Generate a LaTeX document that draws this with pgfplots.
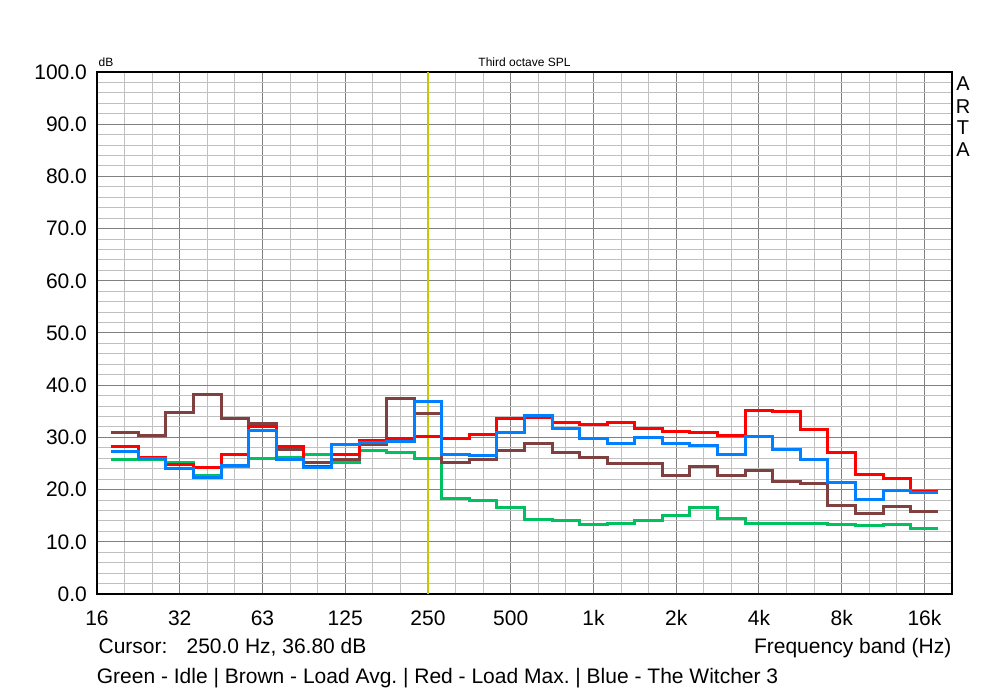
\documentclass[border=0pt]{standalone}
\usepackage{pgfplots}
\pgfplotsset{compat=1.18}
\usepackage{fontspec}
\setmainfont{Liberation Sans}
\frenchspacing
\definecolor{cgreen}{RGB}{0,192,96}
\definecolor{cbrown}{RGB}{128,64,64}
\definecolor{cred}{RGB}{255,0,0}
\definecolor{cblue}{RGB}{0,128,255}
\definecolor{gminor}{RGB}{192,192,192}
\definecolor{gmajor}{RGB}{128,128,128}
\definecolor{ccursor}{RGB}{200,200,0}
\begin{document}
\begin{tikzpicture}
\path[use as bounding box] (-48.5pt,-50pt) rectangle (451.5pt,297pt);
\begin{axis}[
  at={(0,0)}, anchor=south west,
  scale only axis, width=427.5pt, height=261pt,
  xmin=0, xmax=31, ymin=0, ymax=100,
  xtick={0,3,6,9,12,15,18,21,24,27,30},
  xticklabels={16,32,63,125,250,500,1k,2k,4k,8k,16k},
  minor xtick={1,2,4,5,7,8,10,11,13,14,16,17,19,20,22,23,25,26,28,29},
  ytick={0,10,...,100},
  minor ytick={2,4,6,8,12,14,16,18,22,24,26,28,32,34,36,38,42,44,46,48,52,54,56,58,62,64,66,68,72,74,76,78,82,84,86,88,92,94,96,98},
  yticklabel={\pgfmathprintnumber[fixed,fixed zerofill,precision=1]{\tick}},
  /pgf/number format/assume math mode=true,
  major tick length=0pt, minor tick length=0pt,
  grid=both,
  major grid style={gmajor, line width=0.5pt},
  minor grid style={gminor, line width=0.5pt},
  axis line style={black, line width=0.6pt},
  tick label style={font=\fontsize{10.5}{12}\selectfont, black},
  yticklabel style={anchor=east, inner sep=0pt, xshift=-4.85pt},
  xticklabel style={anchor=north, inner sep=0pt, yshift=-8pt},
  const plot,
  every axis plot/.append style={line width=1.5pt},
]
\draw[ccursor, line width=0.6pt] (axis cs:12,0) -- (axis cs:12,100);
% Green - Idle
\addplot[cgreen, const plot] coordinates {
(0.5,25.7)(1.5,25.8)(2.5,25.2)(3.5,22.7)(4.5,24.4)(5.5,25.9)(6.5,26.1)(7.5,26.8)(8.5,25.2)(9.5,27.5)
(10.5,27.1)(11.5,25.9)(12.5,18.3)(13.5,17.9)(14.5,16.5)(15.5,14.3)(16.5,14.0)(17.5,13.3)(18.5,13.5)(19.5,14.0)
(20.5,15.0)(21.5,16.5)(22.5,14.4)(23.5,13.5)(24.5,13.5)(25.5,13.5)(26.5,13.3)(27.5,13.1)(28.5,13.3)(29.5,12.5)(30.5,12.5)};
% Brown - Load Avg.
\addplot[cbrown, const plot] coordinates {
(0.5,30.9)(1.5,30.3)(2.5,34.7)(3.5,38.2)(4.5,33.7)(5.5,32.6)(6.5,27.7)(7.5,25.1)(8.5,25.7)(9.5,28.6)
(10.5,37.4)(11.5,34.5)(12.5,25.1)(13.5,25.7)(14.5,27.5)(15.5,28.8)(16.5,27.1)(17.5,26.2)(18.5,25.0)(19.5,25.0)
(20.5,22.7)(21.5,24.5)(22.5,22.7)(23.5,23.6)(24.5,21.5)(25.5,21.1)(26.5,16.9)(27.5,15.4)(28.5,16.7)(29.5,15.8)(30.5,15.8)};
% Red - Load Max.
\addplot[cred, const plot] coordinates {
(0.5,28.2)(1.5,26.2)(2.5,24.9)(3.5,24.3)(4.5,26.8)(5.5,32.0)(6.5,28.2)(7.5,24.5)(8.5,26.8)(9.5,29.5)
(10.5,29.8)(11.5,30.1)(12.5,29.8)(13.5,30.6)(14.5,33.7)(15.5,33.9)(16.5,32.8)(17.5,32.5)(18.5,32.8)(19.5,31.7)
(20.5,31.1)(21.5,30.9)(22.5,30.3)(23.5,35.2)(24.5,34.9)(25.5,31.6)(26.5,27.1)(27.5,22.8)(28.5,22.1)(29.5,19.7)(30.5,19.7)};
% Blue - The Witcher 3
\addplot[cblue, const plot] coordinates {
(0.5,27.3)(1.5,26.0)(2.5,24.0)(3.5,22.4)(4.5,24.6)(5.5,31.3)(6.5,25.7)(7.5,24.2)(8.5,28.7)(9.5,29.1)
(10.5,29.2)(11.5,36.8)(12.5,26.8)(13.5,26.6)(14.5,30.9)(15.5,34.2)(16.5,31.7)(17.5,29.8)(18.5,28.9)(19.5,29.9)
(20.5,28.9)(21.5,28.4)(22.5,26.7)(23.5,30.2)(24.5,27.6)(25.5,25.7)(26.5,21.3)(27.5,18.1)(28.5,19.8)(29.5,19.4)(30.5,19.4)};
\end{axis}
\node[anchor=west, inner sep=0pt, font=\fontsize{6}{7}\selectfont] at (0.6pt,266pt) {dB};
\node[inner sep=0pt, font=\fontsize{6}{7}\selectfont] at (213.75pt,266pt) {Third octave SPL};
\foreach \l/\yy in {A/255.4, R/243.7, T/233, A/222}{
  \node[inner sep=0pt, font=\fontsize{10}{12}\selectfont] at (433pt,\yy pt) {\l};
}
\node[anchor=west, inner sep=0pt, font=\fontsize{10.5}{12}\selectfont] at (0.6pt,-26.85pt) {Cursor:\hspace*{9.6pt}250.0 Hz, 36.80 dB};
\node[anchor=east, inner sep=0pt, font=\fontsize{10.5}{12}\selectfont] at (427.35pt,-27pt) {Frequency band (Hz)};
\node[anchor=west, inner sep=0pt, font=\fontsize{10.5}{12}\selectfont] at (-0.25pt,-42pt) {Green - Idle | Brown - Load Avg. | Red - Load Max. | Blue - The Witcher 3};
\end{tikzpicture}
\end{document}
